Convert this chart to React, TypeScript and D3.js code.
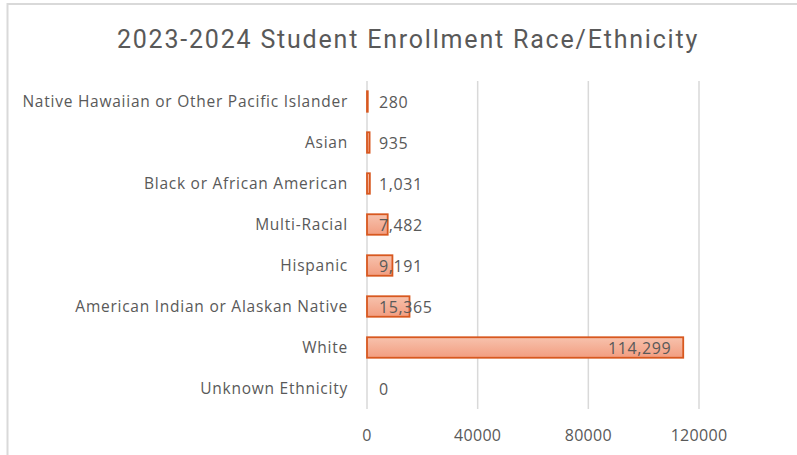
import React from "react";
import * as d3 from "d3";

const categories = [
  "Native Hawaiian or Other Pacific Islander",
  "Asian",
  "Black or African American",
  "Multi-Racial",
  "Hispanic",
  "American Indian or Alaskan Native",
  "White",
  "Unknown Ethnicity",
];
const values = [280, 935, 1031, 7482, 9191, 15365, 114299, 0];
const ticks = [0, 40000, 80000, 120000];
const title = "2023-2024 Student Enrollment Race/Ethnicity";

export default function App() {
  const W = 797, H = 455;
  const x = d3.scaleLinear().domain([0, 120000]).range([367, 699]);
  const y = d3.scaleBand().domain(categories).range([81, 409]).paddingInner(0.5).paddingOuter(0.25);
  const fmt = d3.format(",");
  const font = "'Open Sans', sans-serif";
  const gray = "#595959";
  return (
    <svg width={W} height={H} style={{ position: "absolute", left: 0, top: 0 }}>
      <defs>
        <linearGradient id="barg" x1="0" y1="0" x2="0" y2="1">
          <stop offset="0" stopColor="#f7c2ad" />
          <stop offset="1" stopColor="#f29d80" />
        </linearGradient>
      </defs>
      <rect x={0} y={0} width={W} height={H} fill="#fff" />
      <rect x={7.5} y={4} width={W + 20} height={H + 20} fill="none" stroke="#d9d9d9" strokeWidth={2} />
      <text x={408} y={48} textAnchor="middle" fontFamily="Roboto, sans-serif" fontSize={25} letterSpacing={1.8} fill={gray}>
        {title}
      </text>
      {ticks.map((t) => (
        <g key={t}>
          <line x1={x(t)} x2={x(t)} y1={81} y2={409} stroke="#d9d9d9" strokeWidth={1.5} />
          <text x={x(t)} y={441} textAnchor="middle" fontFamily={font} fontSize={16} letterSpacing={0.3} fill={gray}>
            {t}
          </text>
        </g>
      ))}
      {categories.map((c, i) => {
        const v = values[i];
        const yc = y(c)! + y.bandwidth() / 2;
        const w = x(v) - x(0);
        const inside = w > 200;
        return (
          <g key={c}>
            <text x={348} y={yc + 5.5} textAnchor="end" fontFamily={font} fontSize={15.5} letterSpacing={0.75} fill={gray}>
              {c}
            </text>
            {v > 0 && (
              <rect
                x={x(0)}
                y={y(c)!}
                width={Math.max(w, 0.5)}
                height={y.bandwidth()}
                fill="url(#barg)"
                stroke="#d8581f"
                strokeWidth={1.8}
              />
            )}
            <text
              x={inside ? x(v) - 12 : x(0) + 12}
              y={yc + 6}
              textAnchor={inside ? "end" : "start"}
              fontFamily={font}
              fontSize={16}
              letterSpacing={0.6}
              fill={gray}
            >
              {fmt(v)}
            </text>
          </g>
        );
      })}
    </svg>
  );
}
